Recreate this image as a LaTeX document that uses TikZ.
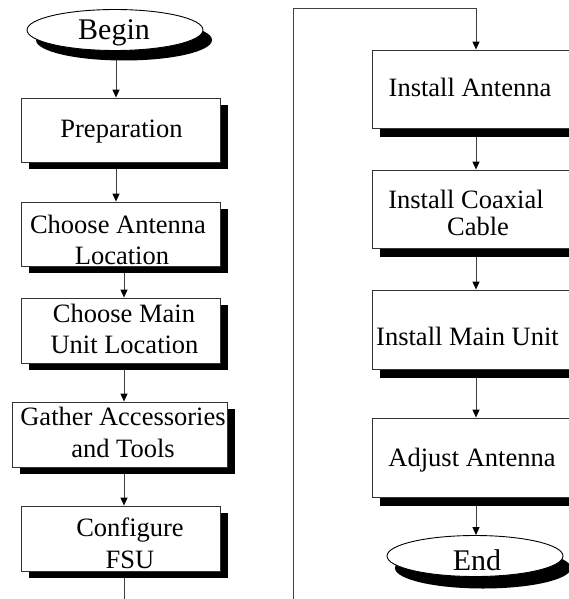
\documentclass[tikz,border=0pt]{standalone}
\usepackage{fontspec}
\setmainfont{Liberation Serif}
\usetikzlibrary{shapes.geometric,shadows,arrows.meta}
\pgfdeclarelayer{back}
\pgfdeclarelayer{bg}
\pgfsetlayers{back,bg,main}
\begin{document}
\begin{tikzpicture}[x=1pt,y=-1pt,
  stepbox/.style={draw=black!80, line width=0.9pt, fill=white, rectangle, inner sep=0pt,
    general shadow={fill=black, shadow xshift=8pt, shadow yshift=-7pt}},
  rstepbox/.style={stepbox, minimum width=208pt, minimum height=78pt,
    general shadow={fill=black, shadow xshift=8pt, shadow yshift=-9pt}},
  lstepbox/.style={stepbox, minimum width=199pt, minimum height=64pt},
  term/.style={draw=black, line width=0.9pt, fill=white, ellipse, inner sep=0pt,
    minimum width=176pt, minimum height=41pt},
  txt/.style={font=\fontsize{26.5pt}{31pt}\selectfont, inner sep=0pt, anchor=base},
  ttxt/.style={font=\fontsize{30pt}{34pt}\selectfont, inner sep=0pt, anchor=base},
  arr/.style={draw=black!75, line width=1pt, -{Triangle[length=8pt,width=7pt,color=black]}}]
\useasboundingbox (0,0) rectangle (569,599);
\begin{pgfonlayer}{back}
  \fill[white] (0,0) rectangle (569,599);
\end{pgfonlayer}
\clip (0,0) rectangle (569,599);

% terminals
\node[term, general shadow={fill=black, shadow xshift=9pt, shadow yshift=-10pt}] (begin) at (115,30) {};
\node[ttxt] (tbegin) at (114,40) {Begin};
\node[term, general shadow={fill=black, shadow xshift=8pt, shadow yshift=-12pt}] (end) at (475,556) {};
\node[ttxt] (tend) at (477,570) {End};

% left column
\node[lstepbox] (b1) at (120.5,130) {};
\node[txt] (t1) at (121.5,137) {Preparation};
\node[lstepbox] (b2) at (120.5,234) {};
\node[txt] (t2a) at (118,233) {Choose Antenna};
\node[txt] (t2b) at (122,264) {Location};
\node[lstepbox, minimum height=65pt] (b3) at (120.5,330.5) {};
\node[txt] (t3a) at (124,322) {Choose Main};
\node[txt] (t3b) at (124.5,353) {Unit Location};
\node[stepbox, minimum width=215pt, minimum height=65pt] (b4) at (119.5,434.5) {};
\node[txt] (t4a) at (123,425) {Gather Accessories};
\node[txt] (t4b) at (123,457) {and Tools};
\node[lstepbox, minimum height=65pt] (b5) at (120.5,538.5) {};
\node[txt] (t5a) at (130,536) {Configure};
\node[txt] (t5b) at (130,568) {FSU};

% right column
\node[rstepbox] (r1) at (476,89) {};
\node[txt] (u1) at (470,97) {Install Antenna};
\node[rstepbox] (r2) at (476,209) {};
\node[txt] (u2a) at (466,208) {Install Coaxial};
\node[txt] (u2b) at (478,235) {Cable};
\node[rstepbox, minimum height=79pt] (r3) at (476,329.5) {};
\node[txt] (u3) at (467.5,345) {Install Main Unit};
\node[rstepbox, minimum height=79pt] (r4) at (476,457.5) {};
\node[txt] (u4) at (472,466) {Adjust Antenna};

% connectors
\coordinate (lb) at (124,615);
\coordinate (rb) at (293,615);
\coordinate (rt) at (293,9);
\begin{pgfonlayer}{bg}
\begin{scope}
\clip (0,0) rectangle (569,599);
\draw[arr] ([xshift=1pt]begin.south) -- ([xshift=-4.5pt]b1.north);
\draw[arr] ([xshift=-4.5pt]b1.south) -- ([xshift=-4.5pt]b2.north);
\draw[arr] ([xshift=3.5pt]b2.south) -- ([xshift=3.5pt]b3.north);
\draw[arr] ([xshift=3.5pt]b3.south) -- ([xshift=4.5pt]b4.north);
\draw[arr] ([xshift=4.5pt]b4.south) -- ([xshift=3.5pt]b5.north);
\draw[arr] ([xshift=3.5pt]b5.south) -- (lb) -- (rb) -- (rt) -- (rt -| r1.north) -- (r1.north);
\draw[arr] (r1.south) -- (r2.north);
\draw[arr] (r2.south) -- (r3.north);
\draw[arr] (r3.south) -- (r4.north);
\draw[arr] (r4.south) -- (r4.south |- end.north);
\end{scope}
\end{pgfonlayer}
\end{tikzpicture}
\end{document}
